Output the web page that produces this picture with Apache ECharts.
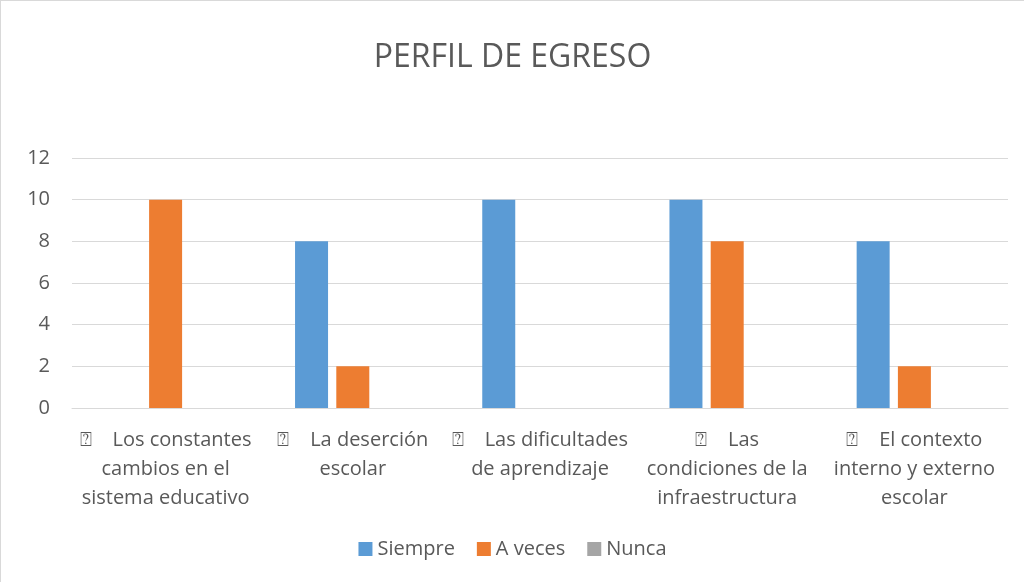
<!DOCTYPE html>
<html>
<head>
<meta charset="utf-8">
<title>PERFIL DE EGRESO</title>
<script src="https://cdn.jsdelivr.net/npm/echarts@6/dist/echarts.min.js"></script>
<style>
html, body { margin: 0; padding: 0; background: #fff; }
#chart { width: 1024px; height: 582px; box-sizing: border-box; border-left: 1px solid #d9d9d9; border-top: 1px solid #d9d9d9; }
</style>
</head>
<body>
<div id="chart"></div>
<script>
// categorias (saltos de linea como en el original)
var categories = [
  '⍰    Los constantes\ncambios en el\nsistema educativo',
  '⍰    La deserción\nescolar',
  '⍰    Las dificultades\nde aprendizaje',
  '⍰    Las\ncondiciones de la\ninfraestructura',
  '⍰    El contexto\ninterno y externo\nescolar'
];
var siempre = [0, 8, 10, 10, 8];
var aVeces = [10, 2, 0, 8, 2];
var nunca = [0, 0, 0, 0, 0];
var yTicks = [0, 2, 4, 6, 8, 10, 12];

var myChart = echarts.init(document.getElementById('chart'));
var font = 'Open Sans';
var option = {
  backgroundColor: '#fff',
  textStyle: { fontFamily: font },
  title: {
    text: 'PERFIL DE EGRESO',
    left: 'center',
    top: 36,
    textStyle: { color: '#595959', fontSize: 32, fontWeight: 'normal', fontFamily: font }
  },
  legend: {
    bottom: 18,
    left: 'center',
    itemWidth: 14,
    itemHeight: 14,
    itemGap: 22,
    icon: 'rect',
    textStyle: { color: '#595959', fontSize: 20, fontFamily: font },
    data: ['Siempre', 'A veces', 'Nunca']
  },
  grid: { left: 71, right: 16, top: 157, bottom: 174 },
  xAxis: {
    type: 'category',
    data: categories,
    axisLine: { lineStyle: { color: '#d9d9d9' } },
    axisTick: { show: false },
    axisLabel: {
      color: '#595959',
      fontSize: 20,
      lineHeight: 29,
      interval: 0,
      margin: 18,
      fontFamily: font
    }
  },
  yAxis: {
    type: 'value',
    min: yTicks[0],
    max: yTicks[yTicks.length - 1],
    interval: 2,
    axisLine: { show: false },
    axisTick: { show: false },
    splitLine: { lineStyle: { color: '#d9d9d9' } },
    axisLabel: { color: '#595959', fontSize: 20, margin: 22, fontFamily: font }
  },
  series: [
    { name: 'Siempre', type: 'bar', data: siempre, itemStyle: { color: '#5b9bd5' }, barWidth: 33, barGap: '25%' },
    { name: 'A veces', type: 'bar', data: aVeces, itemStyle: { color: '#ed7d31' }, barWidth: 33, barGap: '25%' },
    { name: 'Nunca', type: 'bar', data: nunca, itemStyle: { color: '#a5a5a5' }, barWidth: 33, barGap: '25%' }
  ]
};
myChart.setOption(option);
</script>
</body>
</html>
